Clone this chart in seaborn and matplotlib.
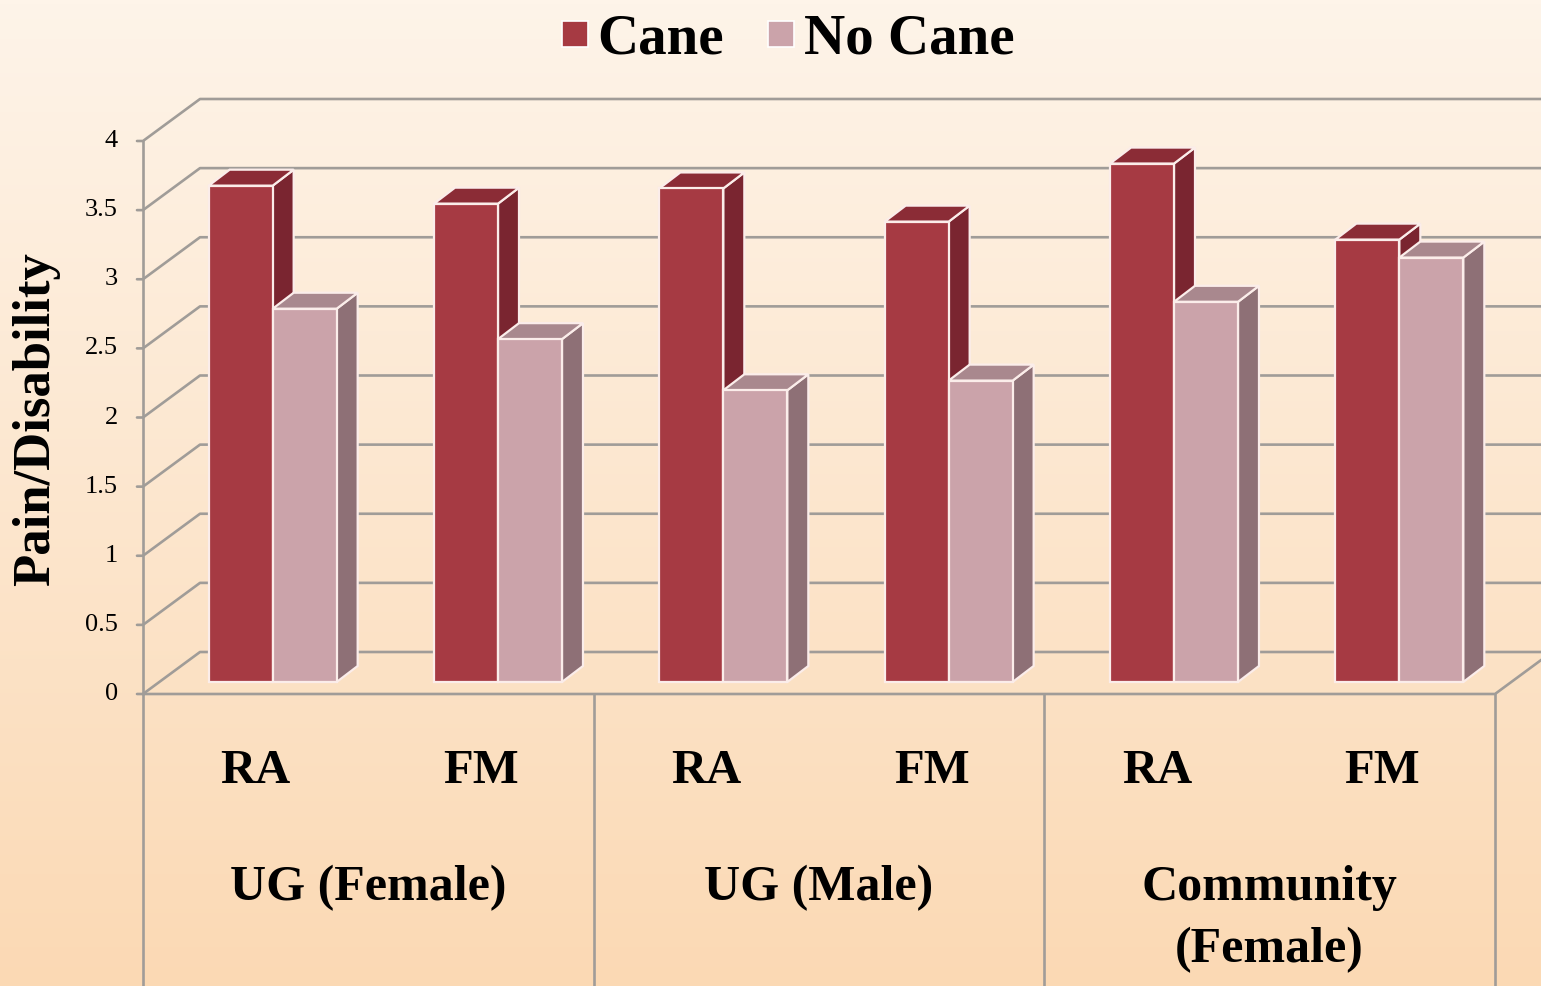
import numpy as np
import pandas as pd
import matplotlib
matplotlib.use("Agg")
import matplotlib.pyplot as plt
import seaborn as sns
from matplotlib.patches import Polygon
from matplotlib.lines import Line2D
from matplotlib.transforms import IdentityTransform, Affine2D
from matplotlib.colors import LinearSegmentedColormap, to_rgb

# data
groups = ["UG (Female)", "UG (Male)", "Community\n(Female)"]
conditions = ["RA", "FM"]
cane = [3.59, 3.46, 3.57, 3.33, 3.75, 3.20]
no_cane = [2.70, 2.48, 2.11, 2.18, 2.75, 3.07]
yticks = [0, 0.5, 1, 1.5, 2, 2.5, 3, 3.5, 4]
ytick_labels = ["0", "0.5", "1", "1.5", "2", "2.5", "3", "3.5", "4"]
series = ["Cane", "No Cane"]

slots = [f"{g}|{c}" for g in groups for c in conditions]
df = pd.DataFrame({
    "slot": slots * 2,
    "value": cane + no_cane,
    "series": ["Cane"] * 6 + ["No Cane"] * 6,
})

# colours: front, side, top
front = {"Cane": "#A63A43", "No Cane": "#CBA3AA"}
side = {"Cane": "#7A2530", "No Cane": "#8E7076"}
top = {"Cane": "#8B2C36", "No Cane": "#A9888E"}
grid_col = "#A09C98"
edge_col = "#FBEDEA"

sns.set_theme(style="white")
plt.rcParams["font.family"] = ["Liberation Serif", "DejaVu Serif"]
plt.rcParams["text.color"] = "black"

W, H = 1541, 986
fig = plt.figure(figsize=(W / 100, H / 100), dpi=100)

# background gradient
bg = fig.add_axes([0, 0, 1, 1], zorder=-10)
cmap = LinearSegmentedColormap.from_list("bg", ["#FEF4E9", "#FBD9B4"])
bg.imshow(np.linspace(0, 1, 256).reshape(-1, 1), aspect="auto", cmap=cmap,
          extent=[0, 1, 0, 1], origin="upper")
bg.axis("off")

ax = fig.add_axes([143 / W, (H - 694) / H, (1495 - 143) / W, (694 - 141) / H])
ax.patch.set_alpha(0)

sns.barplot(data=df, x="slot", y="value", hue="series", order=slots,
            hue_order=series, palette=[front[s] for s in series],
            width=0.568, gap=0, dodge=True, legend=False, ax=ax,
            edgecolor=edge_col, linewidth=1.6, saturation=1, errorbar=None)

ax.set_xlim(-0.5, 5.5)
ax.set_ylim(0, 4)
ax.set_xticks([])
ax.set_yticks([])
ax.set_xlabel("")
ax.set_ylabel("")
for sp in ax.spines.values():
    sp.set_visible(False)

# depth offsets in pixels
shift = np.array([17, 12])
depth = np.array([21, 16])
wall = np.array([57, 42])
ident = IdentityTransform()

def disp(x, y):
    return ax.transData.transform((x, y))

# back wall and side wall grid lines
for v in yticks:
    p = disp(-0.5, v)
    q = p + wall
    ax.add_line(Line2D([p[0] - 6, p[0], q[0], W + 5], [p[1], p[1], q[1], q[1]],
                       transform=ident, color=grid_col, lw=1.9, clip_on=False, zorder=1))
# floor front edge and right diagonal
p0, p1 = disp(-0.5, 0), disp(5.5, 0)
ax.add_line(Line2D([p0[0], p1[0], p1[0] + wall[0]], [p0[1], p1[1], p1[1] + wall[1]],
                   transform=ident, color=grid_col, lw=1.9, clip_on=False, zorder=1))
# front left edge
pt = disp(-0.5, 4)
ax.add_line(Line2D([p0[0], pt[0]], [p0[1], pt[1]], transform=ident,
                   color=grid_col, lw=1.9, clip_on=False, zorder=1))
# category dividers below the floor
for xb in [-0.5, 1.5, 3.5, 5.5]:
    pb = disp(xb, 0)
    ax.add_line(Line2D([pb[0], pb[0]], [pb[1], -5], transform=ident,
                       color=grid_col, lw=1.9, clip_on=False, zorder=1))

# 3-D bars: shift front faces and add side and top faces
def series_of(bar):
    fc = np.array(bar.get_facecolor()[:3])
    dists = [np.abs(fc - np.array(to_rgb(front[s]))).sum() for s in series]
    return series[int(np.argmin(dists))]

bars = sorted(ax.patches, key=lambda b: b.get_x())
for i, b in enumerate(bars):
    name = series_of(b)
    x0, w, h = b.get_x(), b.get_width(), b.get_height()
    b.set_transform(ax.transData + Affine2D().translate(*shift))
    b.set_clip_on(False)
    z = 3 + i * 0.1
    b.set_zorder(z + 0.05)
    br = disp(x0 + w, 0) + shift
    tl = disp(x0, h) + shift
    tr = disp(x0 + w, h) + shift
    ax.add_patch(Polygon([br, br + depth, tr + depth, tr], closed=True, transform=ident,
                         facecolor=side[name], edgecolor=edge_col, lw=1.6,
                         clip_on=False, zorder=z))
    ax.add_patch(Polygon([tl, tr, tr + depth, tl + depth], closed=True, transform=ident,
                         facecolor=top[name], edgecolor=edge_col, lw=1.6,
                         clip_on=False, zorder=z))

# y tick labels
for v, lab in zip(yticks, ytick_labels):
    p = disp(-0.5, v)
    ax.text(p[0] - 25, p[1], lab, transform=ident, ha="right", va="center",
            fontsize=19, color="black")

# category and group labels
for i, c in enumerate(conditions * 3):
    ax.text(i, 0, c, transform=ax.transData + Affine2D().translate(0, -(771 - 694)),
            ha="center", va="center", fontsize=35, fontweight="bold", color="black")
for j, g in enumerate(groups):
    for k, line in enumerate(g.split("\n")):
        ax.text(2 * j + 0.5, 0, line,
                transform=ax.transData + Affine2D().translate(0, -(888 - 694) - 62 * k),
                ha="center", va="center", fontsize=36, fontweight="bold", color="black")

fig.text(36 / W, 1 - 419 / H, "Pain/Disability", rotation=90, ha="center", va="center",
         fontsize=38, fontweight="bold", color="black")

handles = [Line2D([], [], ls="none", marker="s", markersize=19, markerfacecolor=front[s],
                  markeredgecolor="white", markeredgewidth=1.2) for s in series]
fig.legend(handles, series, loc="upper center", bbox_to_anchor=(786 / W, 1.038), ncol=2,
           frameon=False, prop={"size": 41, "weight": "bold"}, handletextpad=0.1,
           columnspacing=0.7, handlelength=0.6, labelcolor="black")

fig.savefig("out.png", dpi=100)
